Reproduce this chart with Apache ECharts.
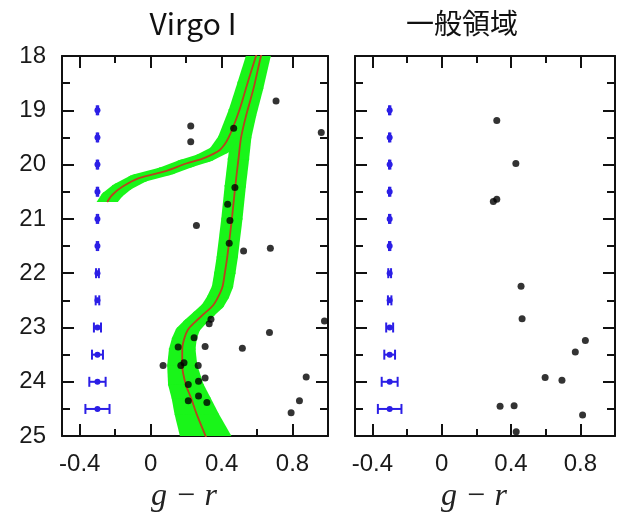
<!DOCTYPE html>
<html>
<head>
<meta charset="utf-8">
<script src="https://cdn.jsdelivr.net/npm/echarts@6/dist/echarts.min.js"></script>
<style>
html,body{margin:0;padding:0;background:#fff;}
#chart{width:640px;height:518px;}
</style>
</head>
<body>
<div id="chart"></div>
<script>
// ---- Data ----
const panelTitles = ['Virgo I', '一般領域'];
const axisName = 'g − r';

// Virgo I stars (g-r colour, g magnitude)
const virgoColor = [0.707, 0.226, 0.468, 0.962, 0.226, 0.475, 0.434, 0.447, 0.258, 0.443, 0.675, 0.524,
  0.340, 0.330, 0.980, 0.670, 0.245, 0.155, 0.307, 0.517, 0.070, 0.170, 0.188, 0.268, 0.877,
  0.307, 0.270, 0.212, 0.270, 0.212, 0.317, 0.839, 0.792];
const virgoMag = [18.83, 19.29, 19.33, 19.41, 19.58, 20.42, 20.73, 21.03, 21.12, 21.45, 21.54, 21.59,
  22.85, 22.93, 22.88, 23.09, 23.19, 23.36, 23.35, 23.38, 23.70, 23.70, 23.65, 23.70, 23.91,
  23.93, 23.99, 24.05, 24.26, 24.35, 24.38, 24.35, 24.57];

// General field stars
const fieldColor = [0.318, 0.318, 0.298, 0.428, 0.458, 0.464, 0.829, 0.771, 0.597, 0.694, 0.337, 0.418, 0.813, 0.430];
const fieldMag = [19.19, 20.64, 20.68, 19.98, 22.24, 22.84, 23.24, 23.45, 23.92, 23.97, 24.45, 24.44, 24.61, 24.92];

// Isochrone: main sequence / red giant branch
const isoColor = [0.632, 0.622, 0.58, 0.538, 0.51, 0.495, 0.477, 0.458, 0.432, 0.418, 0.405, 0.38,
  0.35, 0.30, 0.25, 0.21, 0.19, 0.178, 0.178, 0.198, 0.228, 0.26, 0.31, 0.322];
const isoMag = [17.9, 18.0, 18.6, 19.1, 19.5, 19.9, 20.4, 21.0, 21.7, 22.0, 22.25, 22.44,
  22.6, 22.75, 22.9, 23.04, 23.2, 23.4, 23.7, 24.05, 24.3, 24.6, 25.0, 25.1];
const isoBandHalf = [0.055, 0.055, 0.055, 0.057, 0.058, 0.06, 0.06, 0.06, 0.06, 0.06, 0.06, 0.062,
  0.063, 0.064, 0.066, 0.068, 0.07, 0.075, 0.085, 0.10, 0.11, 0.125, 0.145, 0.15];

// Isochrone: horizontal branch / asymptotic giant branch
const hbColor = [-0.245, -0.217, -0.16, -0.066, 0.085, 0.20, 0.30, 0.39, 0.44, 0.50, 0.546, 0.594, 0.603];
const hbMag = [20.69, 20.56, 20.41, 20.25, 20.12, 19.98, 19.88, 19.73, 19.50, 19.0, 18.5, 18.0, 17.9];
const hbBandHalf = [0.06, 0.06, 0.06, 0.06, 0.06, 0.06, 0.06, 0.06, 0.06, 0.06, 0.057, 0.057, 0.057];
const bandMagHalf = 0.08;

// Photometric error bars
const errCenter = [-0.3, -0.3, -0.3, -0.3, -0.3, -0.3, -0.3, -0.3, -0.3, -0.3, -0.3, -0.3];
const errMag = [19, 19.5, 20, 20.5, 21, 21.5, 22, 22.5, 23, 23.5, 24, 24.5];
const errHalf = [0.004, 0.004, 0.004, 0.004, 0.004, 0.004, 0.008, 0.01, 0.02, 0.031, 0.046, 0.068];

// Axes / ticks
const xMin = -0.5, xMax = 1.0;
const xMajorTicks = [-0.4, 0, 0.4, 0.8];
const xMinorTicks = [-0.2, 0.2, 0.6];
const yMin = 18, yMax = 25;

// ---- Styles ----
const bandColor = '#19f519';
const lineColor = '#b8431d';
const errColor = '#2b1ee6';
const frame = '#111';
const labelFont = 'Liberation Sans';

function bandRenderer(cols, mags, halfs) {
  return function (params, api) {
    const s = api.size([1, 1], [0, 20]);
    const b = bandMagHalf * s[1];
    const pts = cols.map((c, i) => api.coord([c, mags[i]]));
    const n = pts.length;
    const children = [];
    // rounded joints at interior vertices
    for (let i = 1; i < n - 1; i++) {
      const a = halfs[i] * s[0];
      const e = [];
      for (let k = 0; k < 28; k++) {
        const t = k / 28 * 2 * Math.PI;
        e.push([pts[i][0] + a * Math.cos(t), pts[i][1] + b * Math.sin(t)]);
      }
      children.push({ type: 'polygon', shape: { points: e }, style: { fill: bandColor } });
    }
    for (let i = 0; i < n - 1; i++) {
      const p0 = pts[i], p1 = pts[i + 1];
      let tx = p1[0] - p0[0], ty = p1[1] - p0[1];
      const L = Math.hypot(tx, ty) || 1; tx /= L; ty /= L;
      const nx = -ty, ny = tx;
      const sup = (a) => { const d = Math.sqrt(a * a * nx * nx + b * b * ny * ny) || 1; return [a * a * nx / d, b * b * ny / d]; };
      // flat (horizontal) cut at the two ends of the branch
      const flat = (a) => [a * (nx >= 0 ? 1 : -1), 0];
      const o0 = i === 0 ? flat(halfs[i] * s[0]) : sup(halfs[i] * s[0]);
      const o1 = i + 1 === n - 1 ? flat(halfs[i + 1] * s[0]) : sup(halfs[i + 1] * s[0]);
      children.push({
        type: 'polygon',
        shape: { points: [[p0[0] + o0[0], p0[1] + o0[1]], [p1[0] + o1[0], p1[1] + o1[1]],
                          [p1[0] - o1[0], p1[1] - o1[1]], [p0[0] - o0[0], p0[1] - o0[1]]] },
        style: { fill: bandColor }
      });
    }
    return { type: 'group', children };
  };
}

function errRenderer(params, api) {
  const x = api.value(0), y = api.value(1), h = api.value(2);
  const c = api.coord([x, y]);
  const l = api.coord([x - h, y]);
  const r = api.coord([x + h, y]);
  const cap = 5;
  const st = { stroke: errColor, lineWidth: 2 };
  return {
    type: 'group',
    children: [
      { type: 'line', shape: { x1: l[0], y1: c[1], x2: r[0], y2: c[1] }, style: st },
      { type: 'line', shape: { x1: l[0], y1: c[1] - cap, x2: l[0], y2: c[1] + cap }, style: st },
      { type: 'line', shape: { x1: r[0], y1: c[1] - cap, x2: r[0], y2: c[1] + cap }, style: st },
      { type: 'circle', shape: { cx: c[0], cy: c[1], r: 3 }, style: { fill: errColor } }
    ]
  };
}

function xAxes(g) {
  const base = { type: 'value', gridIndex: g, min: xMin, max: xMax, splitLine: { show: false } };
  const tickStyle = { color: frame, width: 2 };
  return [
    Object.assign({}, base, {
      position: 'bottom',
      axisLine: { show: true, onZero: false, lineStyle: { color: frame, width: 2 } },
      axisTick: { show: true, inside: true, length: 12, customValues: xMajorTicks, lineStyle: tickStyle },
      axisLabel: { show: true, customValues: xMajorTicks, fontSize: 24, fontFamily: labelFont, color: '#1a1a1a', margin: 16 },
      name: axisName, nameLocation: 'middle', nameGap: 28,
      nameTextStyle: { fontFamily: 'Liberation Serif', fontStyle: 'italic', fontSize: 32, color: '#222', padding: [0, 22, 0, 0] }
    }),
    Object.assign({}, base, {
      position: 'bottom',
      axisLine: { show: false, onZero: false },
      axisTick: { show: true, inside: true, length: 7, customValues: xMinorTicks, lineStyle: tickStyle },
      axisLabel: { show: false }
    }),
    Object.assign({}, base, {
      position: 'top',
      axisLine: { show: true, onZero: false, lineStyle: { color: frame, width: 2 } },
      axisTick: { show: true, inside: true, length: 12, customValues: xMajorTicks, lineStyle: tickStyle },
      axisLabel: { show: false }
    }),
    Object.assign({}, base, {
      position: 'top',
      axisLine: { show: false, onZero: false },
      axisTick: { show: true, inside: true, length: 7, customValues: xMinorTicks, lineStyle: tickStyle },
      axisLabel: { show: false }
    })
  ];
}

function yAxes(g, showLabels) {
  const base = {
    type: 'value', gridIndex: g, inverse: true, min: yMin, max: yMax, interval: 1,
    splitLine: { show: false }, minorSplitLine: { show: false },
    axisLine: { show: true, onZero: false, lineStyle: { color: frame, width: 2 } },
    axisTick: { show: true, inside: true, length: 12, lineStyle: { color: frame, width: 2 } },
    minorTick: { show: true, splitNumber: 2, length: 8, lineStyle: { color: frame, width: 2 } }
  };
  return [
    Object.assign({}, base, {
      position: 'left',
      axisLabel: { show: showLabels, fontSize: 24, fontFamily: labelFont, color: '#1a1a1a', margin: 16 }
    }),
    Object.assign({}, base, { position: 'right', axisLabel: { show: false } })
  ];
}

const chart = echarts.init(document.getElementById('chart'), null, { renderer: 'canvas' });

const option = {
  backgroundColor: '#fff',
  animation: false,
  title: [
    { text: panelTitles[0], left: 193, top: 9, textAlign: 'center', padding: 0,
      textStyle: { fontFamily: 'Noto Sans CJK JP', fontSize: 30, fontWeight: 'normal', color: '#111' } },
    { text: panelTitles[1], left: 462, top: 9, textAlign: 'center', padding: 0,
      textStyle: { fontFamily: 'Noto Sans CJK JP', fontSize: 28, fontWeight: 'normal', color: '#111' } }
  ],
  grid: [
    { left: 62, top: 56, width: 266, height: 385, containLabel: false },
    { left: 355, top: 56, width: 260, height: 385, containLabel: false }
  ],
  xAxis: xAxes(0).concat(xAxes(1)),
  yAxis: yAxes(0, true).concat(yAxes(1, false)),
  series: [
    { type: 'custom', xAxisIndex: 0, yAxisIndex: 0, clip: true, z: 1, silent: true,
      renderItem: bandRenderer(isoColor, isoMag, isoBandHalf), data: [[0.3, 21]], encode: { x: 0, y: 1 } },
    { type: 'custom', xAxisIndex: 0, yAxisIndex: 0, clip: true, z: 1, silent: true,
      renderItem: bandRenderer(hbColor, hbMag, hbBandHalf), data: [[0.3, 20]], encode: { x: 0, y: 1 } },
    { type: 'line', xAxisIndex: 0, yAxisIndex: 0, z: 3, smooth: 0.3, showSymbol: false, symbol: 'none',
      lineStyle: { color: lineColor, width: 1.8 }, data: isoColor.map((c, i) => [c, isoMag[i]]) },
    { type: 'line', xAxisIndex: 0, yAxisIndex: 0, z: 3, smooth: 0.3, showSymbol: false, symbol: 'none',
      lineStyle: { color: lineColor, width: 1.8 }, data: hbColor.map((c, i) => [c, hbMag[i]]) },
    { type: 'scatter', xAxisIndex: 0, yAxisIndex: 0, z: 4, symbolSize: 7, itemStyle: { color: '#000' },
      data: virgoColor.map((c, i) => [c, virgoMag[i]]) },
    { type: 'custom', xAxisIndex: 0, yAxisIndex: 0, z: 4, renderItem: errRenderer, encode: { x: 0, y: 1 },
      data: errMag.map((m, i) => [errCenter[i], m, errHalf[i]]) },
    { type: 'scatter', xAxisIndex: 4, yAxisIndex: 2, z: 4, symbolSize: 7, itemStyle: { color: '#000' },
      data: fieldColor.map((c, i) => [c, fieldMag[i]]) },
    { type: 'custom', xAxisIndex: 4, yAxisIndex: 2, z: 4, renderItem: errRenderer, encode: { x: 0, y: 1 },
      data: errMag.map((m, i) => [errCenter[i], m, errHalf[i]]) }
  ]
};
chart.setOption(option);
</script>
</body>
</html>
